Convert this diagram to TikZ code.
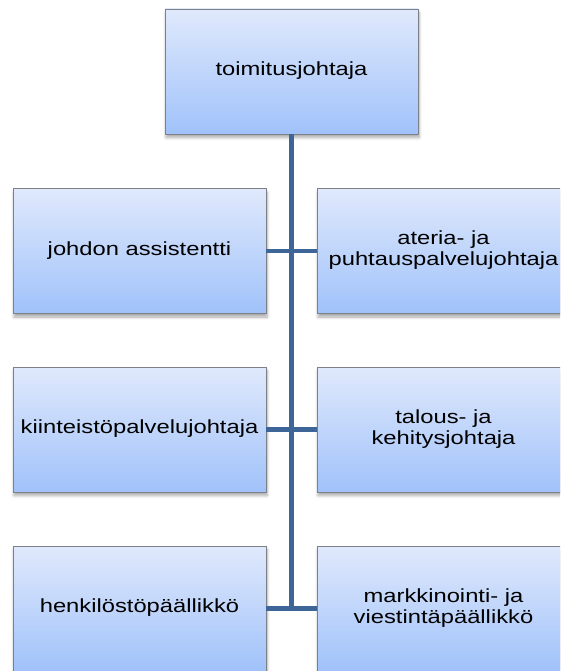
\documentclass[tikz,border=0pt]{standalone}
\usepackage{fontspec}
\usepackage{graphicx}
\setmainfont{Liberation Sans}
\usetikzlibrary{shadows.blur}

\definecolor{boxtop}{RGB}{224,233,252}
\definecolor{boxbottom}{RGB}{160,194,250}
\definecolor{boxedge}{RGB}{125,128,135}
\definecolor{linkblue}{RGB}{62,101,152}

% wide Arial-like lettering, one or more centred lines
\newcommand{\boxlabel}[1]{\scalebox{1.25}[1]{\fontsize{19}{21}\selectfont\begin{tabular}{@{}c@{}}#1\end{tabular}}}

\tikzset{
  orgbox/.style={
    rectangle, draw=boxedge, line width=0.9pt,
    top color=boxtop, bottom color=boxbottom,
    minimum width=253pt, minimum height=125pt, inner sep=0pt,
    blur shadow={shadow xshift=1pt, shadow yshift=-3.5pt,
                 shadow blur radius=3pt, shadow blur steps=6, shadow opacity=35}
  },
  link/.style={draw=linkblue, line width=4.7pt}
}

\begin{document}
\begin{tikzpicture}[x=1pt, y=-1pt]
  \path[use as bounding box, clip] (0,0) rectangle (560,671);

  % boxes
  \node[orgbox] (ceo) at (291.5,71.5) {\boxlabel{toimitusjohtaja}};

  \node[orgbox] (l1) at (139.5,251)   {\boxlabel{johdon assistentti}};
  \node[orgbox] (r1) at (443.5,251)   {\boxlabel{ateria- ja\\puhtauspalvelujohtaja}};

  \node[orgbox] (l2) at (139.5,429.5) {\boxlabel{kiinteistöpalvelujohtaja}};
  \node[orgbox] (r2) at (443.5,429.5) {\boxlabel{talous- ja\\kehitysjohtaja}};

  \node[orgbox] (l3) at (139.5,608.5) {\boxlabel{henkilöstöpäällikkö}};
  \node[orgbox] (r3) at (443.5,608.5) {\boxlabel{markkinointi- ja\\viestintäpäällikkö}};

  % connectors
  \coordinate (spineend) at (291.5,608.5);
  \draw[link] (ceo.south) -- (spineend);
  \draw[link] (l1.east) -- (r1.west);
  \draw[link] (l2.east) -- (r2.west);
  \draw[link] (l3.east) -- (r3.west);
\end{tikzpicture}
\end{document}
